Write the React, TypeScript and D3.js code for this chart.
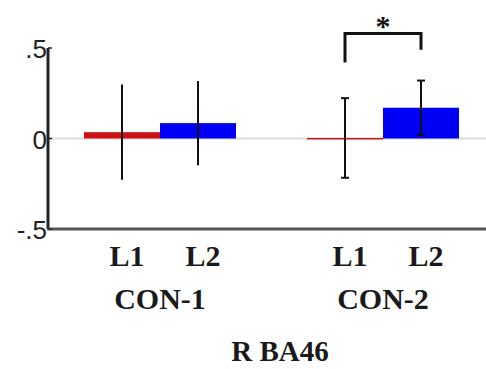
import React from "react";
import * as d3 from "d3";

const groups = ["CON-1", "CON-2"];
const levels = ["L1", "L2"];
const meanL1 = [0.035, 0.003];
const meanL2 = [0.085, 0.17];
const seL1 = [0.263, 0.22];
const seL2 = [0.233, 0.15];
const yTicks = [0.5, 0, -0.5];
const yTickLabels = [".5", "0", "-.5"];
const title = "R BA46";

const W = 486;
const H = 369;

export default function App() {
  const y = d3.scaleLinear().domain([-0.5, 0.5]).range([229, 48]);
  const gx = d3.scalePoint<string>().domain(groups).range([160, 383]);
  const bx = d3.scaleBand<string>().domain(levels).range([-76, 76]).padding(0);
  const colors: Record<string, string> = { L1: "#cc1212", L2: "#0000f5" };
  const capW = [0, 4];

  const bars = groups.flatMap((g, i) => [
    { g, i, lvl: "L1", v: meanL1[i], se: seL1[i] },
    { g, i, lvl: "L2", v: meanL2[i], se: seL2[i] },
  ]);

  const x0 = 48;
  const serif = "'Liberation Serif', 'Times New Roman', serif";
  const sans = "'Liberation Sans', Arial, sans-serif";

  const bl = (gx("CON-2") as number) + (bx("L1") as number) + bx.bandwidth() / 2;
  const br = (gx("CON-2") as number) + (bx("L2") as number) + bx.bandwidth() / 2;

  return (
    <svg width={W} height={H} style={{ position: "absolute", left: 0, top: 0, background: "#fff" }}>
      {/* zero line */}
      <line x1={x0} x2={W} y1={y(0)} y2={y(0)} stroke="#dcdcdc" strokeWidth={2} />
      {/* bars */}
      {bars.map((b, k) => {
        const cx0 = (gx(b.g) as number) + (bx(b.lvl) as number);
        const top = Math.min(y(b.v), y(0));
        const h = Math.max(Math.abs(y(b.v) - y(0)), 1.5);
        return (
          <rect key={k} x={cx0} y={top} width={bx.bandwidth()} height={h} fill={colors[b.lvl]} />
        );
      })}
      {/* error bars */}
      {bars.map((b, k) => {
        const cx = (gx(b.g) as number) + (bx(b.lvl) as number) + bx.bandwidth() / 2;
        const yt = y(b.v + b.se);
        const yb = y(b.v - b.se);
        const c = capW[b.i];
        return (
          <g key={k} stroke="#111" strokeWidth={2}>
            <line x1={cx} x2={cx} y1={yt} y2={yb} />
            {c > 0 && <line x1={cx - c} x2={cx + c} y1={yt} y2={yt} />}
            {c > 0 && <line x1={cx - c} x2={cx + c} y1={yb} y2={yb} />}
          </g>
        );
      })}
      {/* axes */}
      <line x1={x0} x2={x0} y1={y(0.5)} y2={y(-0.5)} stroke="#222" strokeWidth={3} />
      <line x1={x0 - 1} x2={W} y1={y(-0.5)} y2={y(-0.5)} stroke="#555" strokeWidth={3} />
      {yTicks.map((t, i) => (
        <g key={i}>
          <line x1={x0} x2={x0 + 4} y1={y(t)} y2={y(t)} stroke="#222" strokeWidth={1.5} />
          <text x={x0 - 1} y={y(t) + 10} textAnchor="end" fontFamily={sans} fontSize={26} fill="#222">
            {yTickLabels[i]}
          </text>
        </g>
      ))}
      {/* level labels */}
      {bars.map((b, k) => {
        const cx = (gx(b.g) as number) + (bx(b.lvl) as number) + bx.bandwidth() / 2;
        return (
          <text key={k} x={cx + 5} y={266} textAnchor="middle" fontFamily={serif} fontWeight="bold" fontSize={30} fill="#1a1a1a">
            {b.lvl}
          </text>
        );
      })}
      {groups.map((g) => (
        <text key={g} x={(gx(g) as number)} y={309} textAnchor="middle" fontFamily={serif} fontWeight="bold" fontSize={30} fill="#1a1a1a">
          {g}
        </text>
      ))}
      <text x={280} y={361} textAnchor="middle" fontFamily={serif} fontWeight="bold" fontSize={29} fill="#1a1a1a">
        {title}
      </text>
      {/* significance bracket */}
      <path
        d={`M${bl},${y(0.42)}V${y(0.58)}H${br}V${y(0.49)}`}
        fill="none"
        stroke="#111"
        strokeWidth={3}
      />
      <text x={(bl + br) / 2} y={36} textAnchor="middle" fontFamily={serif} fontWeight="bold" fontSize={30} fill="#111">
        *
      </text>
    </svg>
  );
}
